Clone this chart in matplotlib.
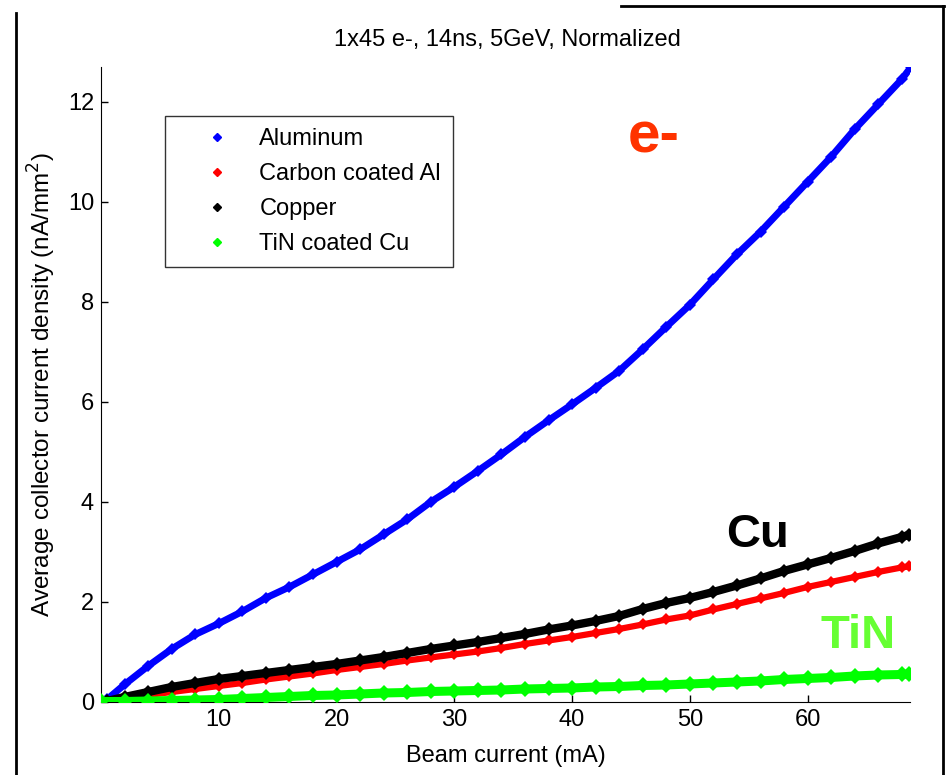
import matplotlib
matplotlib.use("Agg")
import matplotlib.pyplot as plt
from matplotlib.lines import Line2D

# beam current (mA) and normalized collector current density (nA/mm^2)
aluminum_x = [0.5, 2, 4, 6, 8, 10, 12, 14, 16, 18, 20, 22, 24, 26, 28, 30, 32, 34, 36, 38,
              40, 42, 44, 46, 48, 50, 52, 54, 56, 58, 60, 62, 64, 66, 68, 68.8]
aluminum_y = [0.05, 0.35, 0.72, 1.06, 1.35, 1.57, 1.81, 2.08, 2.3, 2.55, 2.8, 3.05, 3.35, 3.65,
              4.0, 4.3, 4.62, 4.95, 5.3, 5.63, 5.95, 6.28, 6.62, 7.05, 7.5, 7.94, 8.45, 8.95,
              9.4, 9.9, 10.4, 10.9, 11.45, 11.95, 12.45, 12.7]

carbon_x = [0.5, 2, 4, 6, 8, 10, 12, 14, 16, 18, 20, 22, 24, 26, 28, 30, 32, 34, 36, 38,
            40, 42, 44, 46, 48, 50, 52, 54, 56, 58, 60, 62, 64, 66, 68, 68.6]
carbon_y = [0.01, 0.06, 0.14, 0.2, 0.26, 0.32, 0.38, 0.45, 0.51, 0.57, 0.64, 0.7, 0.76, 0.83,
            0.89, 0.95, 1.01, 1.08, 1.16, 1.23, 1.3, 1.38, 1.46, 1.55, 1.65, 1.73, 1.85, 1.96,
            2.07, 2.18, 2.3, 2.4, 2.5, 2.6, 2.69, 2.71]

copper_x = [0.5, 2, 4, 6, 8, 10, 12, 14, 16, 18, 20, 22, 24, 26, 28, 30, 32, 34, 36, 38,
            40, 42, 44, 46, 48, 50, 52, 54, 56, 58, 60, 62, 64, 66, 68, 68.6]
copper_y = [0.02, 0.1, 0.2, 0.3, 0.38, 0.46, 0.52, 0.58, 0.64, 0.7, 0.76, 0.83, 0.9, 0.98,
            1.06, 1.13, 1.2, 1.28, 1.36, 1.45, 1.53, 1.62, 1.72, 1.86, 1.98, 2.08, 2.2, 2.33,
            2.47, 2.62, 2.75, 2.88, 3.02, 3.17, 3.3, 3.34]

tin_x = [0, 2, 4, 6, 8, 10, 12, 14, 16, 18, 20, 22, 24, 26, 28, 30, 32, 34, 36, 38,
         40, 42, 44, 46, 48, 50, 52, 54, 56, 58, 60, 62, 64, 66, 68, 68.6]
tin_y = [0.01, 0.01, 0.02, 0.03, 0.04, 0.05, 0.07, 0.09, 0.11, 0.13, 0.14, 0.16, 0.18, 0.19,
         0.21, 0.22, 0.23, 0.24, 0.26, 0.27, 0.28, 0.3, 0.31, 0.33, 0.34, 0.36, 0.38, 0.4,
         0.42, 0.45, 0.47, 0.49, 0.52, 0.54, 0.55, 0.56]

series_names = ["Aluminum", "Carbon coated Al", "Copper", "TiN coated Cu"]
series_colors = ["#0000ff", "#ff0000", "#000000", "#00ff00"]
x_ticks = [10, 20, 30, 40, 50, 60]
y_ticks = [0, 2, 4, 6, 8, 10, 12]

plt.rcParams['font.family'] = ['Liberation Sans', 'DejaVu Sans']
fs = 17

fig = plt.figure(figsize=(9.47, 7.75), dpi=100)
ax = fig.add_axes([0.1067, 0.0942, 0.8543, 0.8197])

# thick band of diamonds per series, the legend only shows a small diamond
all_x = [aluminum_x, carbon_x, copper_x, tin_x]
all_y = [aluminum_y, carbon_y, copper_y, tin_y]
widths = [5.0, 4.5, 6.0, 6.5]
handles = []
for xs, ys, name, col, lw in zip(all_x, all_y, series_names, series_colors, widths):
    ax.plot(xs, ys, color=col, lw=lw, marker="D", ms=lw + 1.5, mew=0, zorder=3)
    h, = ax.plot([], [], ls="none", marker="D", ms=4, color=col, label=name)
    handles.append(h)

ax.set_xlim(0, 68.7)
ax.set_ylim(0, 12.7)
ax.set_xticks(x_ticks)
ax.set_yticks(y_ticks)
ax.tick_params(direction="in", length=5, width=1, labelsize=fs, pad=5)
ax.spines["top"].set_visible(False)
ax.spines["right"].set_visible(False)
ax.set_xlabel("Beam current (mA)", fontsize=fs, labelpad=10)
ax.set_ylabel("Average collector current density (nA/mm$^2$)", fontsize=17.5, labelpad=7)
fig.text(507 / 947, 1 - 40 / 775, "1x45 e-, 14ns, 5GeV, Normalized", fontsize=fs,
         ha="center", va="center")

leg = ax.legend(handles=handles, loc="upper left", bbox_to_anchor=(0.079, 0.922),
                borderaxespad=0, fontsize=fs, frameon=True, fancybox=False,
                edgecolor="black", handlelength=3.4, handletextpad=0.1,
                borderpad=0.5, labelspacing=0.55)
leg.get_frame().set_linewidth(1.0)

# big labels next to the curves
ax.text(0.683, 0.889, "e-", transform=ax.transAxes, color="#ff3300",
        fontsize=42, fontweight="bold", ha="center", va="center")
ax.text(0.812, 0.263, "Cu", transform=ax.transAxes, color="black",
        fontsize=34, fontweight="bold", ha="center", va="center")
ax.text(0.936, 0.104, "TiN", transform=ax.transAxes, color="#66ff33",
        fontsize=34, fontweight="bold", ha="center", va="center")

# frame lines of the original slide
fig.add_artist(Line2D([16 / 947, 16 / 947], [0, 1 - 13 / 775], color="black", lw=2))
fig.add_artist(Line2D([621 / 947, 944 / 947], [1 - 5.5 / 775, 1 - 5.5 / 775], color="black", lw=2))
fig.add_artist(Line2D([943 / 947, 943 / 947], [0, 1 - 5.5 / 775], color="black", lw=2))

fig.savefig("out.png", dpi=100)
